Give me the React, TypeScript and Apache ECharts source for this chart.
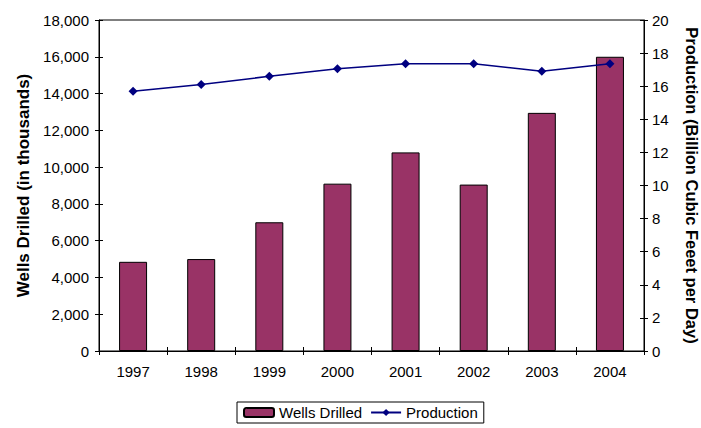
import React, { useEffect, useRef } from "react";
import * as echarts from "echarts";

const years = ["1997", "1998", "1999", "2000", "2001", "2002", "2003", "2004"];
const wellsDrilled = [4850, 5000, 7000, 9100, 10800, 9050, 12950, 16000];
const production = [15.7, 16.1, 16.6, 17.05, 17.35, 17.35, 16.9, 17.35];

const FONT = "'Liberation Sans', Arial, sans-serif";

export default function App() {
  const ref = useRef<HTMLDivElement>(null);

  useEffect(() => {
    if (!ref.current) return;
    const chart = echarts.init(ref.current, undefined, { renderer: "svg" });
    const axisLine = { show: true, lineStyle: { color: "#000", width: 1 } };
    const tickStyle = { color: "#000", width: 1 };
    chart.setOption({
      animation: false,
      textStyle: { fontFamily: FONT },
      grid: {
        left: 99,
        right: 57,
        top: 20,
        bottom: 77,
        show: true,
        borderColor: "#000",
        borderWidth: 1,
        outerBoundsMode: "none",
        containLabel: false,
      },
      legend: {
        data: ["Wells Drilled", "Production"],
        left: 237,
        top: 402,
        orient: "horizontal",
        borderColor: "#000",
        borderWidth: 1,
        padding: [3, 6, 3, 6],
        itemGap: 8,
        itemWidth: 30,
        itemHeight: 9,
        textStyle: { fontSize: 15, color: "#000", fontFamily: FONT },
      },
      xAxis: [
        {
          type: "category",
          data: years,
          boundaryGap: true,
          axisLine,
          axisTick: { show: true, length: 4, lineStyle: tickStyle },
          axisLabel: { color: "#000", fontSize: 15, margin: 13, fontFamily: FONT },
          splitLine: { show: false },
        },
        {
          type: "category",
          data: years,
          position: "bottom",
          boundaryGap: true,
          axisLine: { show: false },
          axisTick: { show: true, inside: true, length: 4, lineStyle: tickStyle },
          axisLabel: { show: false },
        },
      ],
      yAxis: [
        {
          type: "value",
          min: 0,
          max: 18000,
          interval: 2000,
          position: "left",
          name: "Wells Drilled (in thousands)",
          nameLocation: "middle",
          nameGap: 66,
          nameRotate: 90,
          nameTextStyle: { fontSize: 17, fontWeight: "bold", color: "#000", fontFamily: FONT },
          axisLine,
          axisTick: { show: true, length: 4, lineStyle: tickStyle },
          axisLabel: {
            color: "#000",
            fontSize: 15,
            margin: 10,
            fontFamily: FONT,
            formatter: (v: number) => v.toLocaleString("en-US"),
          },
          splitLine: { show: false },
        },
        {
          type: "value",
          min: 0,
          max: 20,
          interval: 2,
          position: "right",
          name: "Production (Billion Cubic Feeet per Day)",
          nameLocation: "middle",
          nameGap: 39,
          nameRotate: -90,
          nameTextStyle: { fontSize: 16.5, fontWeight: "bold", color: "#000", fontFamily: FONT },
          axisLine,
          axisTick: { show: true, length: 4, lineStyle: tickStyle },
          axisLabel: { color: "#000", fontSize: 15, margin: 8, fontFamily: FONT },
          splitLine: { show: false },
        },
        {
          type: "value",
          min: 0,
          max: 18000,
          interval: 2000,
          position: "left",
          axisLine: { show: false },
          axisTick: { show: true, inside: true, length: 4, lineStyle: tickStyle },
          axisLabel: { show: false },
          splitLine: { show: false },
        },
        {
          type: "value",
          min: 0,
          max: 20,
          interval: 2,
          position: "right",
          axisLine: { show: false },
          axisTick: { show: true, inside: true, length: 4, lineStyle: tickStyle },
          axisLabel: { show: false },
          splitLine: { show: false },
        },
      ],
      series: [
        {
          name: "Wells Drilled",
          type: "bar",
          data: wellsDrilled,
          xAxisIndex: 0,
          yAxisIndex: 0,
          barWidth: 28,
          itemStyle: { color: "#993366", borderColor: "#000", borderWidth: 1 },
          z: 2,
        },
        {
          name: "Production",
          type: "line",
          data: production,
          xAxisIndex: 0,
          yAxisIndex: 1,
          symbol: "diamond",
          symbolSize: 9,
          lineStyle: { color: "#000080", width: 1.5 },
          itemStyle: { color: "#000080" },
          z: 3,
        },
      ],
    });
    return () => chart.dispose();
  }, []);

  return <div ref={ref} style={{ width: 701, height: 428, position: "absolute", left: 0, top: 0 }} />;
}
